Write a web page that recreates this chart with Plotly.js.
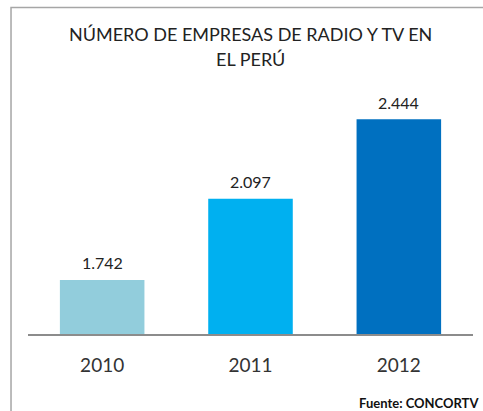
<!DOCTYPE html>
<html>
<head>
<meta charset="utf-8">
<script src="https://cdn.plot.ly/plotly-3.0.1.min.js"></script>
<style>html,body{margin:0;padding:0;background:#fff;}#chart{width:483px;height:411px;}</style>
</head>
<body>
<div id="chart"></div>
<script>
const years = ['2010', '2011', '2012'];
const empresas = [1742, 2097, 2444];
const barColors = ['#92CDDC', '#00B0F0', '#0070C0'];
const labels = ['1.742', '2.097', '2.444'];
const titleLines = ['NÚMERO DE EMPRESAS DE RADIO Y TV EN', 'EL PERÚ'];
const sourceText = 'Fuente: CONCORTV';

const W = 483, H = 411;
const mL = 28, mR = 9.5, mT = 80, mB = 77;
const plotH = H - mT - mB;
const plotW = W - mL - mR;
const py = (pix) => (H - mB - pix) / plotH; // pixel y -> paper y
const px = (pix) => (pix - mL) / plotW;

const font = 'Lato, "Open Sans", sans-serif';

const annotations = years.map((y, i) => ({
  x: i, y: empresas[i], xref: 'x', yref: 'y',
  text: labels[i], showarrow: false,
  yanchor: 'middle', yshift: 17,
  font: {family: font, size: 16, color: '#222'}
}));
annotations.push({
  xref: 'paper', yref: 'paper', x: 0.5, y: py(34), yanchor: 'middle', xanchor: 'center',
  text: titleLines[0], showarrow: false, font: {family: font, size: 18, color: '#222'}
});
annotations.push({
  xref: 'paper', yref: 'paper', x: 0.5, y: py(59), yanchor: 'middle', xanchor: 'center',
  text: titleLines[1], showarrow: false, font: {family: font, size: 18, color: '#222'}
});
annotations.push({
  xref: 'paper', yref: 'paper', x: px(482), y: py(403), yanchor: 'middle', xanchor: 'right',
  text: '<b>' + sourceText + '</b>', showarrow: false, font: {family: font, size: 13, color: '#111'}
});

const trace = {
  type: 'bar', x: years, y: empresas,
  marker: {color: barColors},
  width: 0.57, hoverinfo: 'none'
};

const layout = {
  width: W, height: H,
  margin: {l: mL, r: mR, t: mT, b: mB, pad: 0},
  paper_bgcolor: '#fff', plot_bgcolor: '#fff',
  showlegend: false,
  xaxis: {
    type: 'category', range: [-0.5, 2.5],
    showline: true, linecolor: '#8c8c8c', linewidth: 1.5,
    ticks: 'outside', ticklen: 14, tickcolor: 'rgba(0,0,0,0)',
    tickfont: {family: font, size: 19, color: '#333'},
    showgrid: false, zeroline: false, fixedrange: true
  },
  yaxis: {
    range: [1506, 1506 + plotH / 0.229],
    visible: false, showgrid: false, zeroline: false, fixedrange: true
  },
  annotations: annotations,
  shapes: [{
    type: 'path', xref: 'paper', yref: 'paper',
    path: `M ${px(11)} ${py(415)} L ${px(11)} ${py(7.5)} L ${px(490)} ${py(7.5)}`,
    line: {color: '#a6a6a6', width: 1.5}
  }]
};

Plotly.newPlot('chart', [trace], layout, {displayModeBar: false, staticPlot: true});
</script>
</body>
</html>
